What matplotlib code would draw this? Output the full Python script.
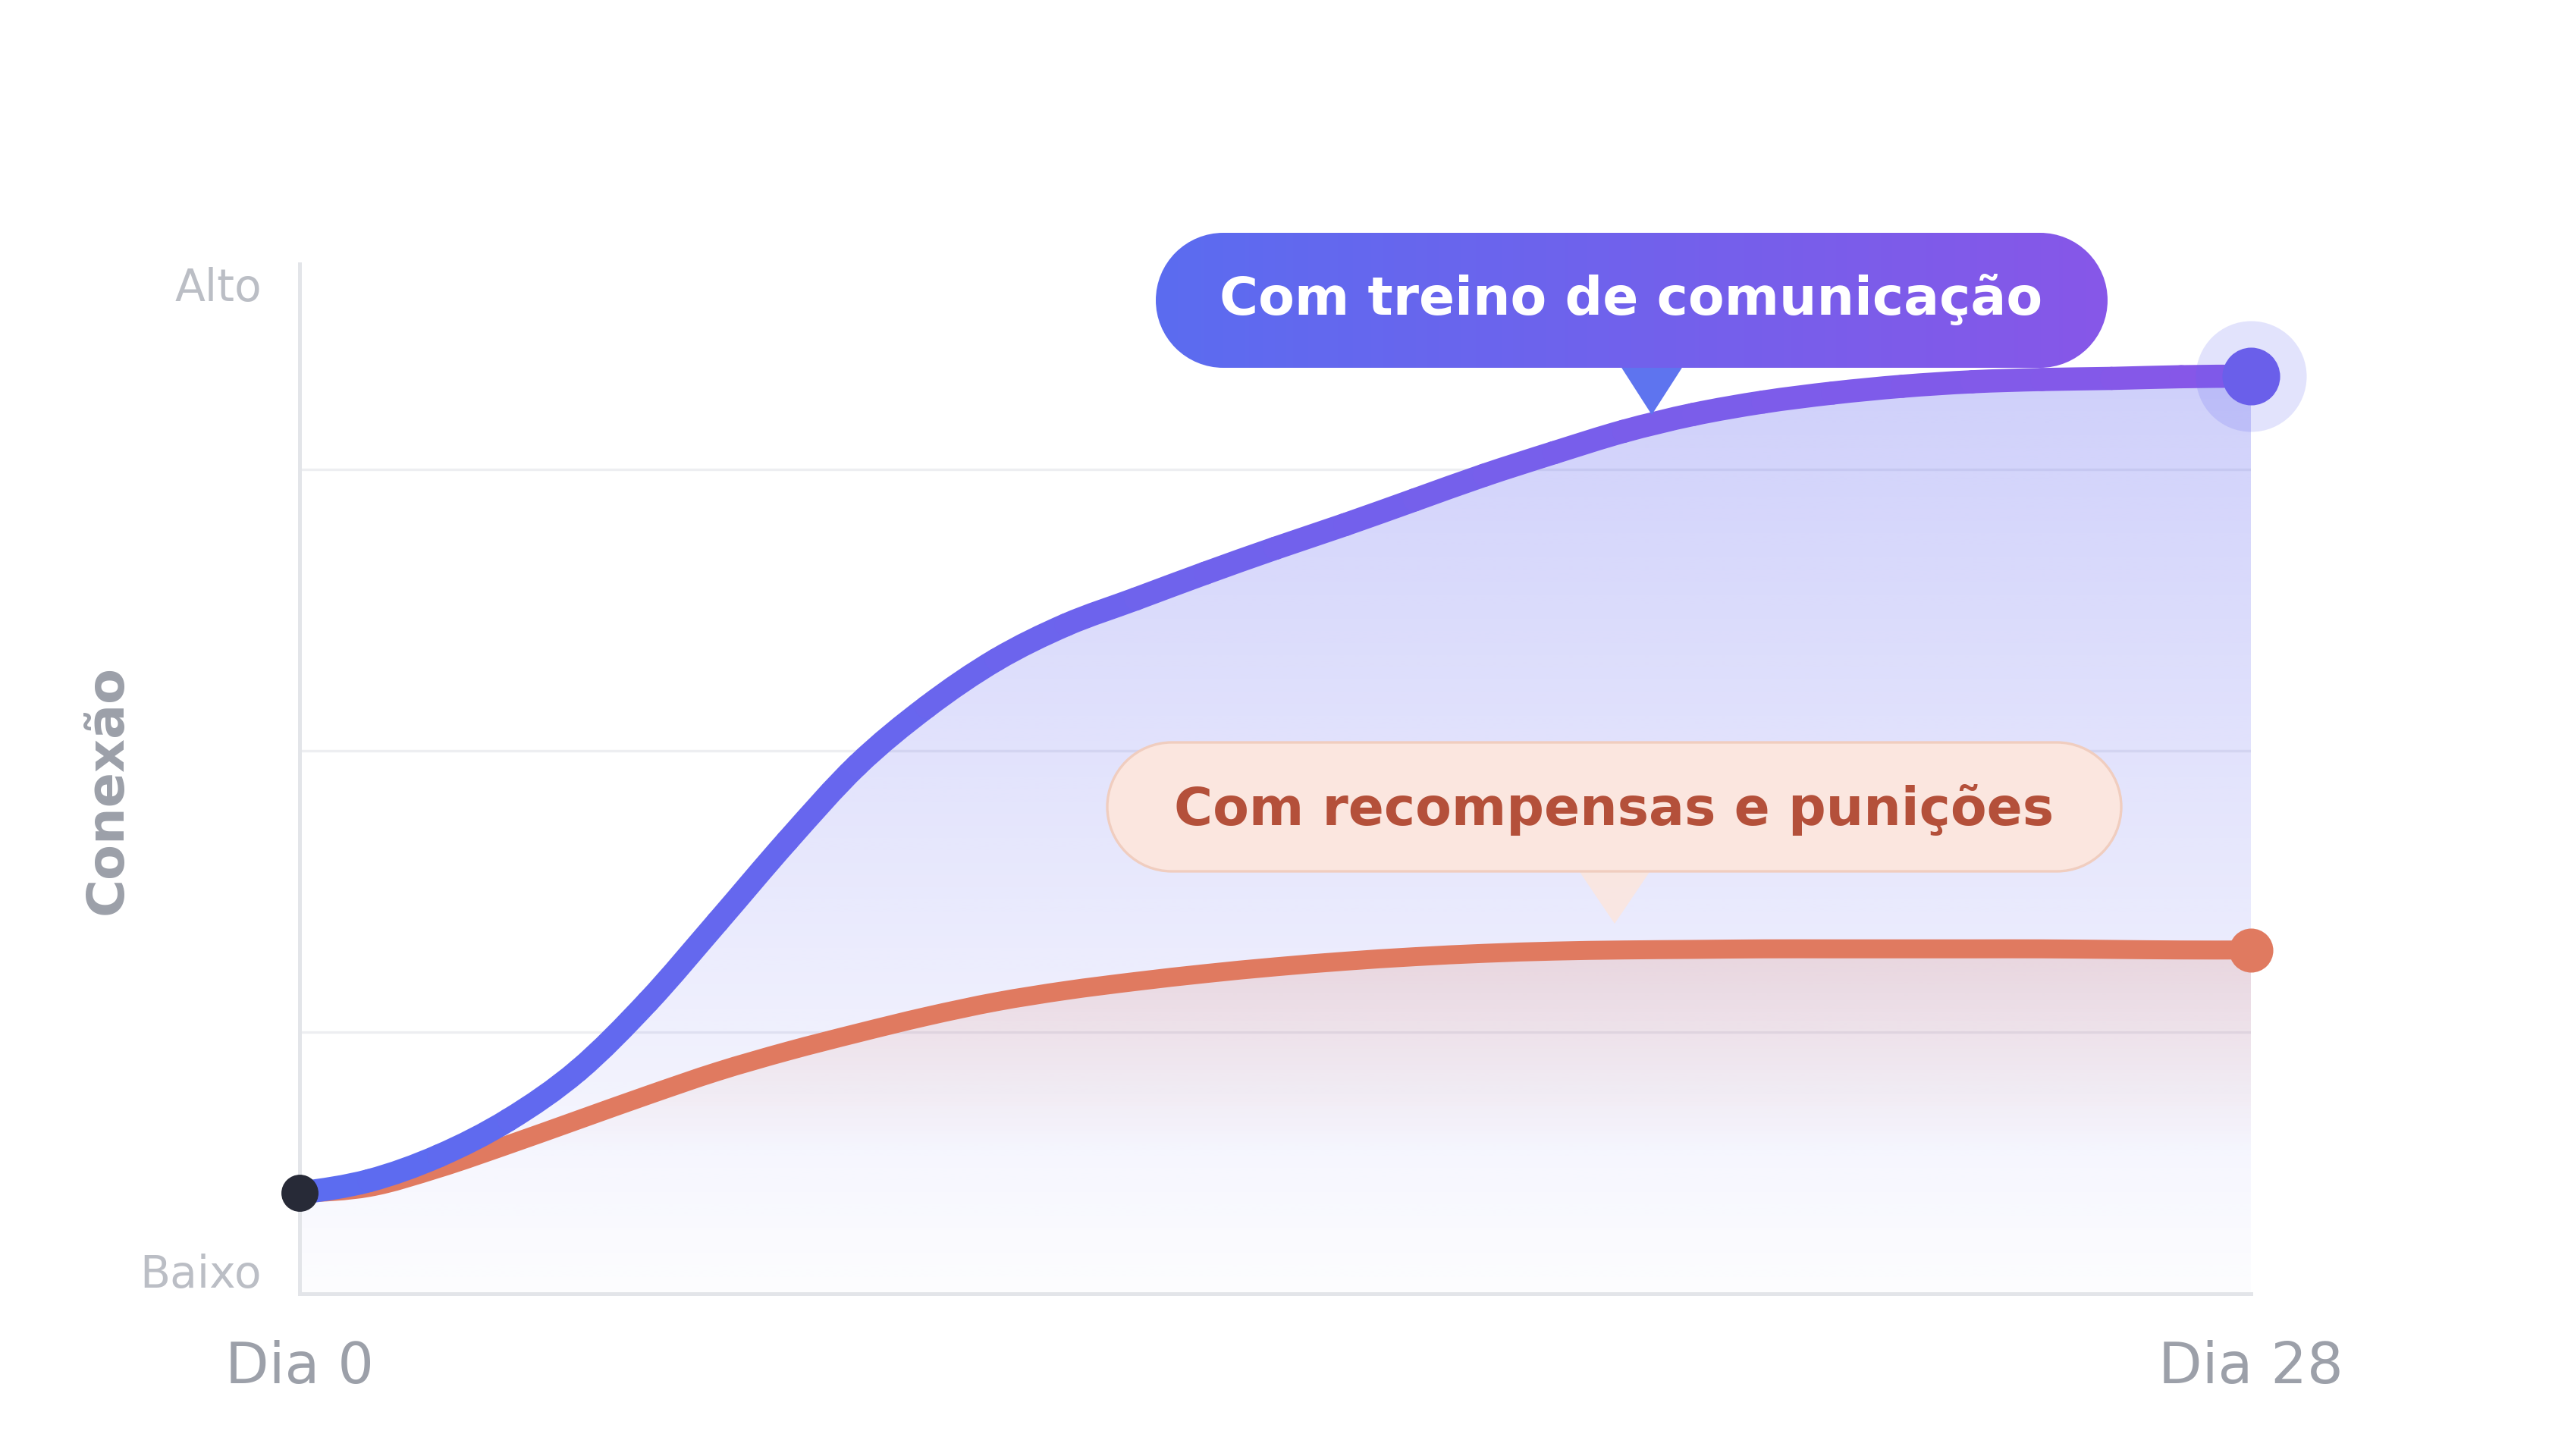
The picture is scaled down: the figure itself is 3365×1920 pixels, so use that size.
"""Curvas de conexão: treino de comunicação vs recompensas e punições"""
import numpy as np
import matplotlib.pyplot as plt
from matplotlib.collections import PathCollection
from matplotlib.colors import LinearSegmentedColormap, to_rgb
from matplotlib.patches import PathPatch, Polygon
from matplotlib.path import Path

# Dados (escala arbitrária de "conexão")
DIAS = list(range(29))
COM_TREINO = [10.7, 11.8, 14.0, 17.2, 21.6, 27.7, 34.8, 42.0, 48.7, 53.9,
              58.1, 61.2, 63.5, 65.8, 68.0, 70.1, 72.3, 74.5, 76.5, 78.4,
              79.9, 81.0, 81.8, 82.4, 82.8, 83.0, 83.1, 83.25, 83.3]
COM_RECOMPENSAS = [10.7, 11.2, 12.9, 15.0, 17.2, 19.4, 21.5, 23.3, 24.9, 26.4,
                   27.7, 28.7, 29.5, 30.2, 30.8, 31.3, 31.7, 32.0, 32.2, 32.3,
                   32.35, 32.4, 32.4, 32.4, 32.4, 32.4, 32.35, 32.3, 32.3]
ROTULOS_X = ['Dia 0', 'Dia 28']
ROTULOS_Y = ['Baixo', 'Alto']
NIVEIS_Y = [3.8, 91.5]
GRADE_Y = [25, 50, 75]
TITULO_Y = 'Conexão'
ROTULO_AZUL = 'Com treino de comunicação'
ROTULO_VERMELHO = 'Com recompensas e punições'

# Cores
AZUL_INICIO = '#5B6CF0'
AZUL_FIM = '#8757E8'
AZUL_AREA = '#6366F1'
VERMELHO = '#E07A60'
CINZA_EIXO = '#E3E5E9'

LARGURA, ALTURA, DPI = 3365, 1920, 200


def tangentes(x, y):
    """Tangentes de Catmull-Rom (diferenças centrais)"""
    m = np.zeros_like(y)
    m[1:-1] = (y[2:] - y[:-2]) / (x[2:] - x[:-2])
    m[0] = (3 * (y[1] - y[0]) / (x[1] - x[0]) - m[1]) / 2
    m[-1] = (3 * (y[-1] - y[-2]) / (x[-1] - x[-2]) - m[-2]) / 2
    return m


def trechos(x, y):
    """Lista de trechos de Bézier cúbica entre pontos vizinhos"""
    m = tangentes(x, y)
    saida = []
    for i in range(len(x) - 1):
        h = x[i + 1] - x[i]
        saida.append([(x[i], y[i]), (x[i] + h / 3, y[i] + m[i] * h / 3),
                      (x[i + 1] - h / 3, y[i + 1] - m[i + 1] * h / 3), (x[i + 1], y[i + 1])])
    return saida


def caminho(x, y, base=None):
    verts = [(x[0], y[0])]
    codes = [Path.MOVETO]
    for t in trechos(x, y):
        verts += t[1:]
        codes += [Path.CURVE4] * 3
    if base is not None:
        verts += [(x[-1], base), (x[0], base), (x[0], y[0])]
        codes += [Path.LINETO, Path.LINETO, Path.CLOSEPOLY]
    return Path(verts, codes)


def pilula(x0, y0, w, h, r):
    x1, y1 = x0 + w, y0 + h
    verts, codes = [(x0 + r, y0)], [Path.MOVETO]
    for cx, cy, a1, a2 in [(x1 - r, y0 + r, 270, 360), (x1 - r, y1 - r, 0, 90),
                           (x0 + r, y1 - r, 90, 180), (x0 + r, y0 + r, 180, 270)]:
        arco = Path.arc(a1, a2)
        verts += list(arco.vertices * r + (cx, cy))
        codes += [Path.LINETO] + list(arco.codes[1:])
    verts.append((x0 + r, y0))
    codes.append(Path.CLOSEPOLY)
    return Path(verts, codes)


fig = plt.figure(figsize=(LARGURA / DPI, ALTURA / DPI), dpi=DPI)
ax = fig.add_axes([0.11735, 0.1114, 0.76467, 0.70753])
ax.set_xlim(DIAS[0], DIAS[-1])
ax.set_ylim(1.74, 93.3)
y0, y1 = ax.get_ylim()

x = np.array(DIAS, dtype=float)
azul = np.array(COM_TREINO)
verm = np.array(COM_RECOMPENSAS)

# grade
for g in GRADE_Y:
    ax.axhline(g, color='#EDEEF1', lw=1.2, zorder=1)

# área azul com degradê vertical
n = 256
img = np.zeros((n, 2, 4))
img[..., :3] = to_rgb(AZUL_AREA)
img[..., 3] = np.linspace(0.015, 0.345, n)[:, None]
area_azul = PathPatch(caminho(x, azul, y0), facecolor='none', edgecolor='none')
ax.add_patch(area_azul)
im = ax.imshow(img, extent=(x[0], x[-1], y0, y1), origin='lower', aspect='auto',
               interpolation='bilinear', zorder=2)
im.set_clip_path(area_azul)

# área vermelha com degradê vertical
niveis = np.linspace(y0, y1, n)
img2 = np.zeros((n, 2, 4))
img2[..., :3] = to_rgb(VERMELHO)
img2[..., 3] = (np.clip((niveis - 14) / (max(verm) - 14), 0, 1) * 0.2)[:, None]
area_verm = PathPatch(caminho(x, verm, y0), facecolor='none', edgecolor='none')
ax.add_patch(area_verm)
im2 = ax.imshow(img2, extent=(x[0], x[-1], y0, y1), origin='lower', aspect='auto',
                interpolation='bilinear', zorder=2.1)
im2.set_clip_path(area_verm)

# linhas
ax.add_patch(PathPatch(caminho(x, verm), facecolor='none', edgecolor=VERMELHO, lw=9,
                       capstyle='round', joinstyle='round', zorder=3))
cmap = LinearSegmentedColormap.from_list('azul', [AZUL_INICIO, AZUL_FIM])
meios = (x[:-1] + x[1:]) / 2 / x[-1]
partes = [Path(t, [Path.MOVETO, Path.CURVE4, Path.CURVE4, Path.CURVE4]) for t in trechos(x, azul)]
linha_azul = PathCollection(partes, facecolors='none', edgecolors=cmap(meios), linewidths=11,
                            capstyle='round', joinstyle='round', transform=ax.transData, zorder=4)
ax.add_collection(linha_azul, autolim=False)

# pontos
ax.plot(DIAS[0], COM_TREINO[0], 'o', ms=17.6, color='#272A37', mew=0, zorder=6, clip_on=False)
ax.plot(DIAS[-1], COM_TREINO[-1], 'o', ms=52.6, color=AZUL_AREA, alpha=0.18, mew=0, zorder=5, clip_on=False)
ax.plot(DIAS[-1], COM_TREINO[-1], 'o', ms=27.4, color='#6A5FEA', mew=0, zorder=6, clip_on=False)
ax.plot(DIAS[-1], COM_RECOMPENSAS[-1], 'o', ms=20.9, color=VERMELHO, mew=0, zorder=6, clip_on=False)

# eixos
for lado in ['top', 'right']:
    ax.spines[lado].set_visible(False)
for lado in ['left', 'bottom']:
    ax.spines[lado].set_color(CINZA_EIXO)
    ax.spines[lado].set_linewidth(1.8)
ax.set_xticks([DIAS[0], DIAS[-1]], ROTULOS_X)
ax.tick_params(axis='x', length=0, pad=22, labelsize=27, labelcolor='#9CA0A9')
ax.set_yticks(NIVEIS_Y, ROTULOS_Y)
ax.tick_params(axis='y', length=0, pad=18, labelsize=21, labelcolor='#BBBEC5')
fig.text(0.0422, 0.4578, TITULO_Y, rotation=90, ha='center', va='center',
         fontsize=24.6, fontweight='bold', color='#9CA0A9')

# camada das anotações em pixels
ov = fig.add_axes([0, 0, 1, 1], zorder=3)
ov.axis('off')

caixa1 = PathPatch(pilula(1524, 307, 1255, 178, 89), facecolor='none', edgecolor='none')
ov.add_patch(caixa1)
grad = cmap(np.linspace(0, 1, 256))[None, :, :]
im3 = ov.imshow(grad, extent=(1524, 2779, 485, 307), aspect='auto', zorder=2)
im3.set_clip_path(caixa1)
ov.add_patch(Polygon([(2135, 480), (2221, 480), (2178, 547)], closed=True,
                     facecolor='#5E74EF', edgecolor='none', zorder=1.9))
ov.text(2151, 415, ROTULO_AZUL, ha='center', va='baseline', fontsize=25,
        fontweight='bold', color='white', zorder=4)

ov.add_patch(PathPatch(pilula(1460, 979, 1337, 170, 85), facecolor='#FBE6DF',
                       edgecolor='#F0CDBF', lw=1.2, zorder=2))
ov.add_patch(Polygon([(2081, 1147), (2177, 1147), (2129, 1218)], closed=True,
                     facecolor='#FBE6DF', alpha=0.9, edgecolor='none', zorder=1.9))
ov.text(2128, 1088, ROTULO_VERMELHO, ha='center', va='baseline', fontsize=25,
        fontweight='bold', color='#B4503A', zorder=4)

ov.set_xlim(0, LARGURA)
ov.set_ylim(ALTURA, 0)

fig.savefig('out.png', dpi=DPI)
